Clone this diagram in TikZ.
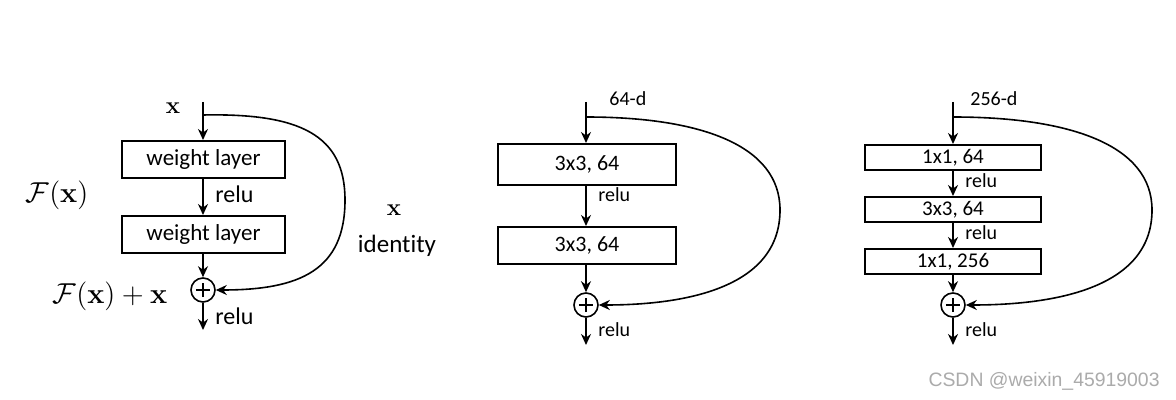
\documentclass[tikz,border=0pt]{standalone}
\usepackage[no-math]{fontspec}
\setmainfont{Carlito}[Ligatures=NoCommon]
\newfontfamily\wmfont{Liberation Sans}
\usetikzlibrary{arrows.meta}
\tikzset{
  lay/.style={draw,line width=0.8pt,minimum width=#1,inner sep=0pt,anchor=north},
  arr/.style={line width=0.8pt,-{Stealth[length=5.5pt,width=5pt]}},
  ln/.style={line width=0.8pt},
  sum/.style={circle,draw,line width=0.8pt,minimum size=12pt,inner sep=0pt},
  lbl/.style={inner sep=0pt},
}
\newcommand{\plusin}[1]{\draw[ln] ([xshift=-3.6pt]#1.center) -- ([xshift=3.6pt]#1.center) ([yshift=-3.6pt]#1.center) -- ([yshift=3.6pt]#1.center);}
\begin{document}
\begin{tikzpicture}[x=0.5pt,y=-0.5pt]
\useasboundingbox[fill=white] (0,0) rectangle (1176,400);
% ---------- left ----------
\coordinate (a0) at (203,102);
\coordinate (as) at (203,115);
\node[lay=81.5pt,minimum height=18.5pt,font=\fontsize{11.5}{13}\selectfont] (a1) at (203.5,140) {weight layer};
\node[lay=81.5pt,minimum height=18.5pt,font=\fontsize{11.5}{13}\selectfont] (a2) at (203.5,215) {weight layer};
\node[sum] (ap) at (203,290) {};
\plusin{ap}
\coordinate (ae) at (203,330);
\draw[arr] (a0) -- (a0|-a1.north);
\draw[arr] (a1.south-|a0) -- (a2.north-|a0);
\draw[arr] (a2.south-|a0) -- (ap.north);
\draw[arr] (ap.south) -- (ae);
\draw[arr] (as) .. controls (300,113) and (345,135) .. (345,200) .. controls (345,270) and (300,290) .. (ap.east);
\node[lbl,anchor=west,font=\fontsize{12}{14}\selectfont] (ar1) at (215,194) {relu};
\node[lbl,anchor=west,font=\fontsize{12}{14}\selectfont] (ar2) at (215,316) {relu};
\node[lbl,font=\fontsize{13}{15}\selectfont] (ax) at (173,108) {$\mathbf{x}$};
\node[lbl,font=\fontsize{13.5}{15}\selectfont] (af) at (57,195) {$\mathcal{F}(\mathbf{x})$};
\node[lbl,font=\fontsize{13.5}{15}\selectfont] (afx) at (110,296) {$\mathcal{F}(\mathbf{x})+\mathbf{x}$};
\node[lbl,font=\fontsize{13}{15}\selectfont] (ix) at (394,210) {$\mathbf{x}$};
\node[lbl,font=\fontsize{12.5}{14}\selectfont] (id) at (397,246) {identity};
% ---------- middle ----------
\coordinate (b0) at (586,102);
\coordinate (bs) at (586,117);
\node[lay=89pt,minimum height=20.5pt,font=\fontsize{11}{13}\selectfont] (b1) at (587,143) {3x3, 64};
\node[lay=89pt,minimum height=18.5pt,font=\fontsize{11}{13}\selectfont] (b2) at (587,226) {3x3, 64};
\node[sum] (bp) at (586,305) {};
\plusin{bp}
\coordinate (be) at (586,345);
\draw[arr] (b0) -- (b0|-b1.north);
\draw[arr] (b1.south-|b0) -- (b2.north-|b0);
\draw[arr] (b2.south-|b0) -- (bp.north);
\draw[arr] (bp.south) -- (be);
\draw[arr] (bs) .. controls (700,117) and (780,145) .. (780,210) .. controls (780,290) and (680,305) .. (bp.east);
\node[lbl,anchor=west,font=\fontsize{10}{12}\selectfont] (br1) at (598,195) {relu};
\node[lbl,anchor=west,font=\fontsize{10}{12}\selectfont] (br2) at (598,330) {relu};
\node[lbl,anchor=west,font=\fontsize{10}{12}\selectfont] (bd) at (609,99) {64-d};
% ---------- right ----------
\coordinate (c0) at (953,102);
\coordinate (cs) at (953,117);
\node[lay=88pt,minimum height=12.5pt,font=\fontsize{10.5}{12}\selectfont] (c1) at (953,144) {1x1, 64};
\node[lay=88pt,minimum height=12.5pt,font=\fontsize{10.5}{12}\selectfont] (c2) at (953,196) {3x3, 64};
\node[lay=88pt,minimum height=12.5pt,font=\fontsize{10.5}{12}\selectfont] (c3) at (953,248) {1x1, 256};
\node[sum] (cp) at (953,305) {};
\plusin{cp}
\coordinate (ce) at (953,345);
\draw[arr] (c0) -- (c0|-c1.north);
\draw[arr] (c1.south-|c0) -- (c2.north-|c0);
\draw[arr] (c2.south-|c0) -- (c3.north-|c0);
\draw[arr] (c3.south-|c0) -- (cp.north);
\draw[arr] (cp.south) -- (ce);
\draw[arr] (cs) .. controls (1070,117) and (1152,145) .. (1152,210) .. controls (1152,290) and (1050,305) .. (cp.east);
\node[lbl,anchor=west,font=\fontsize{10}{12}\selectfont] (cr1) at (965,181) {relu};
\node[lbl,anchor=west,font=\fontsize{10}{12}\selectfont] (cr2) at (965,233) {relu};
\node[lbl,anchor=west,font=\fontsize{10}{12}\selectfont] (cr3) at (965,330) {relu};
\node[lbl,anchor=west,font=\fontsize{10}{12}\selectfont] (cd) at (970,99) {256-d};
% watermark
\node[lbl,anchor=east,text=black!33,font=\wmfont\fontsize{9.7}{12}\selectfont] (wm) at (1160,381) {CSDN @weixin\_45919003};
\end{tikzpicture}
\end{document}
